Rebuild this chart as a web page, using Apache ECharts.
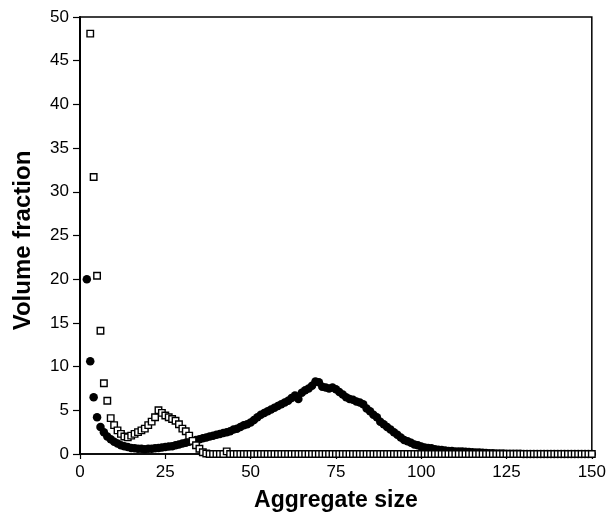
<!DOCTYPE html>
<html>
<head>
<meta charset="utf-8">
<script src="https://cdn.jsdelivr.net/npm/echarts@6/dist/echarts.min.js"></script>
<style>html,body{margin:0;padding:0;background:#fff}#c{width:609px;height:529px}</style>
</head>
<body>
<div id="c"></div>
<script>
// Filled circles: x = 2 .. 150
const circleStartX = 2;
const circleValues = [
  20.0, 10.6, 6.5, 4.2, 3.1, 2.5, 2.0, 1.7, 1.4, 1.2,
  1.0, 0.9, 0.8, 0.7, 0.65, 0.6, 0.6, 0.55, 0.6, 0.6,
  0.65, 0.7, 0.75, 0.8, 0.85, 0.9, 1.0, 1.1, 1.2, 1.3,
  1.4, 1.5, 1.6, 1.7, 1.8, 1.9, 2.0, 2.1, 2.2, 2.3,
  2.4, 2.5, 2.6, 2.8, 2.9, 3.1, 3.3, 3.4, 3.6, 3.9,
  4.2, 4.5, 4.7, 4.9, 5.1, 5.3, 5.5, 5.7, 5.9, 6.1,
  6.4, 6.7, 6.3, 7.0, 7.3, 7.5, 7.8, 8.3, 8.2, 7.7,
  7.6, 7.5, 7.6, 7.4, 7.1, 6.8, 6.5, 6.3, 6.2, 6.0,
  5.9, 5.7, 5.2, 4.9, 4.5, 4.2, 3.7, 3.4, 3.1, 2.8,
  2.5, 2.2, 1.9, 1.6, 1.45, 1.3, 1.1, 1.0, 0.85, 0.75,
  0.7, 0.65, 0.55, 0.5, 0.45, 0.4, 0.35, 0.35, 0.3, 0.3,
  0.28, 0.25, 0.22, 0.2, 0.18, 0.16, 0.14, 0.12, 0.1, 0.08,
  0.07, 0.06, 0.05, 0.04, 0.03, 0.03, 0.02, 0.02, 0.01, 0,
  0, 0, 0, 0, 0, 0, 0, 0, 0, 0,
  0, 0, 0, 0, 0, 0, 0, 0, 0
];
// Open squares: x = 3 .. 150
const squareStartX = 3;
const squareValues = [
  48.1, 31.7, 20.4, 14.1, 8.1, 6.1, 4.1, 3.3, 2.7, 2.3,
  2.0, 1.9, 2.1, 2.3, 2.5, 2.7, 2.9, 3.3, 3.7, 4.2,
  5.0, 4.7, 4.4, 4.2, 4.0, 3.8, 3.4, 2.9, 2.6, 2.1,
  1.5, 1.0, 0.6, 0.2, 0.05, 0, 0, 0, 0, 0,
  0.3, 0, 0, 0, 0, 0, 0, 0, 0, 0,
  0, 0, 0, 0, 0, 0, 0, 0, 0, 0,
  0, 0, 0, 0, 0, 0, 0, 0, 0, 0,
  0, 0, 0, 0, 0, 0, 0, 0, 0, 0,
  0, 0, 0, 0, 0, 0, 0, 0, 0, 0,
  0, 0, 0, 0, 0, 0, 0, 0, 0, 0,
  0, 0, 0, 0, 0, 0, 0, 0, 0, 0,
  0, 0, 0, 0, 0, 0, 0, 0, 0, 0,
  0, 0, 0, 0, 0, 0, 0, 0, 0, 0,
  0, 0, 0, 0, 0, 0, 0, 0, 0, 0,
  0, 0, 0, 0, 0, 0, 0, 0
];
const xTicks = [0, 25, 50, 75, 100, 125, 150];
const yTicks = [0, 5, 10, 15, 20, 25, 30, 35, 40, 45, 50];
const xTitle = 'Aggregate size';
const yTitle = 'Volume fraction';

const circles = circleValues.map((v, i) => [circleStartX + i, v]);
const squares = squareValues.map((v, i) => [squareStartX + i, v]);

const font = '"Liberation Sans", Arial, sans-serif';
const chart = echarts.init(document.getElementById('c'), null, {renderer: 'canvas'});
chart.setOption({
  animation: false,
  backgroundColor: '#fff',
  grid: {left: 80, right: 11, top: 17, bottom: 75, show: true, borderColor: '#000', borderWidth: 1.5, backgroundColor: 'transparent'},
  xAxis: {
    type: 'value', min: xTicks[0], max: xTicks[xTicks.length - 1], interval: 25,
    name: xTitle, nameLocation: 'middle', nameGap: 35,
    nameTextStyle: {fontFamily: font, fontSize: 23, fontWeight: 'bold', color: '#000'},
    axisLine: {show: true, onZero: false, lineStyle: {color: '#000', width: 1.5}},
    axisTick: {show: true, inside: false, length: 5, lineStyle: {color: '#000', width: 1.2}},
    axisLabel: {margin: 10, fontFamily: font, fontSize: 17, color: '#000'},
    splitLine: {show: false}
  },
  yAxis: {
    type: 'value', min: yTicks[0], max: yTicks[yTicks.length - 1], interval: 5,
    name: yTitle, nameLocation: 'middle', nameGap: 45,
    nameTextStyle: {fontFamily: font, fontSize: 24, fontWeight: 'bold', color: '#000', padding: [0, 10, 0, 0]},
    axisLine: {show: true, onZero: false, lineStyle: {color: '#000', width: 2}},
    axisTick: {show: true, inside: false, length: 7, lineStyle: {color: '#000', width: 1.2}},
    axisLabel: {margin: 11, fontFamily: font, fontSize: 17, color: '#000'},
    splitLine: {show: false}
  },
  series: [
    {
      type: 'scatter', data: circles, symbol: 'circle', symbolSize: 8.5, clip: false, z: 2,
      itemStyle: {color: '#000', opacity: 1}
    },
    {
      type: 'scatter', data: squares, symbol: 'rect', symbolSize: 6.5, clip: false, z: 3,
      itemStyle: {color: '#fff', borderColor: '#000', borderWidth: 1.4, opacity: 1}
    }
  ]
});
</script>
</body>
</html>
